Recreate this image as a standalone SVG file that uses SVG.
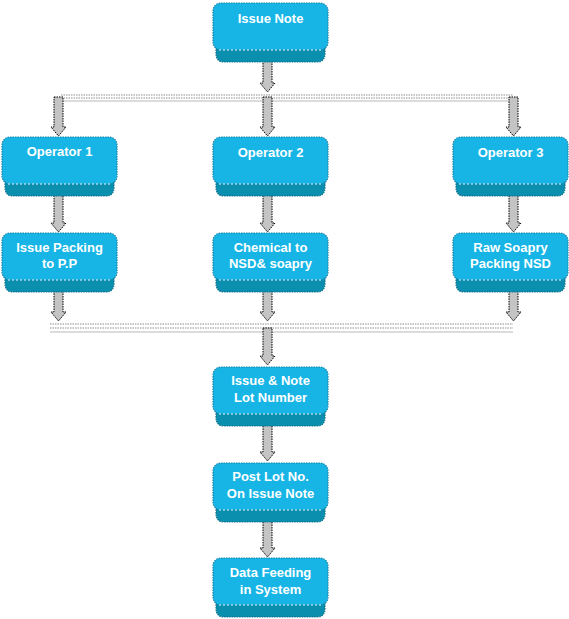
<svg xmlns="http://www.w3.org/2000/svg" width="569" height="619" viewBox="0 0 569 619">
<style>
.face{fill:#16b5e6;stroke:#1784a8;stroke-width:1.2;stroke-dasharray:1.5 1}
.side{fill:#0a90ae;stroke:#0c6f8a;stroke-width:1.2;stroke-dasharray:1.5 1}
.sep{stroke:#e8f8ff;stroke-width:1;stroke-dasharray:2 2;fill:none}
.lbl{font-family:"Liberation Sans",Arial,sans-serif;font-weight:bold;font-size:13px;fill:#ffffff;text-anchor:middle}
.arr{fill:#c4c4c4;stroke:#000;stroke-width:1;stroke-dasharray:1.5 1}
.bar1{stroke:#b4b4b4;stroke-width:1.5;stroke-dasharray:1.5 1}
.bar2{stroke:#d0d0d0;stroke-width:1.5}
</style>
<defs>
<g id="box">
<path class="side" d="M3,34 H112 V50 Q112,59 104,59 H11 Q3,59 3,50 Z"/>
<rect class="face" x="0" y="0" width="115" height="47" rx="8"/>
<path class="sep" d="M6,47 H109"/>
</g>
</defs>
<rect width="569" height="619" fill="#ffffff"/>
<g id="connectors">
<g>
<line class="bar1" x1="61" y1="95" x2="513" y2="95"/>
<line class="bar1" x1="61" y1="98" x2="513" y2="98"/>
<line class="bar2" x1="61" y1="101" x2="513" y2="101"/>
<line class="bar1" x1="50" y1="324" x2="513" y2="324"/>
<line class="bar1" x1="50" y1="328" x2="513" y2="328"/>
<line class="bar2" x1="50" y1="332" x2="513" y2="332"/>
</g>
<path class="arr" d="M263,60 H272 V83 H275 L267.5,92 L260,83 H263 Z"/>
<path class="arr" d="M54,97 H63 V127 H66 L58.5,136 L51,127 H54 Z"/>
<path class="arr" d="M263,97 H272 V127 H275 L267.5,136 L260,127 H263 Z"/>
<path class="arr" d="M509,97 H518 V127 H521 L513.5,136 L506,127 H509 Z"/>
<path class="arr" d="M54,195 H63 V223 H66 L58.5,232 L51,223 H54 Z"/>
<path class="arr" d="M263,195 H272 V223 H275 L267.5,232 L260,223 H263 Z"/>
<path class="arr" d="M509,195 H518 V223 H521 L513.5,232 L506,223 H509 Z"/>
<path class="arr" d="M54,290 H63 V312 H66 L58.5,321 L51,312 H54 Z"/>
<path class="arr" d="M263,290 H272 V312 H275 L267.5,321 L260,312 H263 Z"/>
<path class="arr" d="M509,290 H518 V312 H521 L513.5,321 L506,312 H509 Z"/>
<path class="arr" d="M263,328 H272 V356 H275 L267.5,365 L260,356 H263 Z"/>
<path class="arr" d="M263,425 H272 V452 H275 L267.5,461 L260,452 H263 Z"/>
<path class="arr" d="M263,521 H272 V548 H275 L267.5,557 L260,548 H263 Z"/>
</g>
<g id="issue-note"><use href="#box" x="213" y="3"/><text class="lbl" x="270.5" y="23">Issue Note</text></g>
<g id="operator-1"><use href="#box" x="2" y="137"/><text class="lbl" x="59.5" y="156">Operator 1</text></g>
<g id="operator-2"><use href="#box" x="213" y="137"/><text class="lbl" x="270.5" y="157">Operator 2</text></g>
<g id="operator-3"><use href="#box" x="453" y="137"/><text class="lbl" x="510.5" y="157">Operator 3</text></g>
<g id="issue-packing"><use href="#box" x="2" y="233"/><text class="lbl" x="59.5" y="252">Issue Packing</text><text class="lbl" x="59.5" y="268">to P.P</text></g>
<g id="chemical"><use href="#box" x="213" y="233"/><text class="lbl" x="270.5" y="252">Chemical to</text><text class="lbl" x="270.5" y="268">NSD&amp; soapry</text></g>
<g id="raw-soapry"><use href="#box" x="453" y="233"/><text class="lbl" x="510.5" y="252">Raw Soapry</text><text class="lbl" x="510.5" y="268">Packing NSD</text></g>
<g id="issue-lot"><use href="#box" x="213" y="367"/><text class="lbl" x="270.5" y="385">Issue &amp; Note</text><text class="lbl" x="270.5" y="402">Lot Number</text></g>
<g id="post-lot"><use href="#box" x="213" y="463"/><text class="lbl" x="270.5" y="481">Post Lot No.</text><text class="lbl" x="270.5" y="498">On Issue Note</text></g>
<g id="data-feeding"><use href="#box" x="213" y="558"/><text class="lbl" x="270.5" y="577">Data Feeding</text><text class="lbl" x="270.5" y="594">in System</text></g>
</svg>
